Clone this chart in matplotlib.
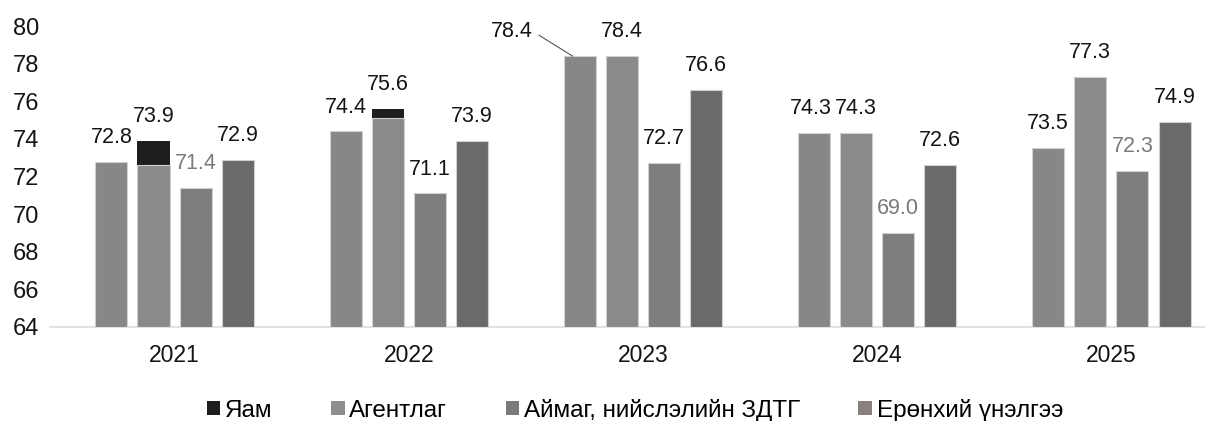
import numpy as np
import matplotlib.pyplot as plt
from matplotlib import font_manager
from matplotlib.patches import Patch

years = ['2021', '2022', '2023', '2024', '2025']
series_names = ['Яам', 'Агентлаг', 'Аймаг, нийслэлийн ЗДТГ', 'Ерөнхий үнэлгээ']

yam = [72.8, 74.4, 78.4, 74.3, 73.5]
agentlag = [73.9, 75.6, 78.4, 74.3, 77.3]
aimag = [71.4, 71.1, 72.7, 69.0, 72.3]
erunkhii = [72.9, 73.9, 76.6, 72.6, 74.9]
# where the dark top of the second bar starts (only 2021 and 2022 have it)
cap_base = [72.6, 75.1, np.nan, np.nan, np.nan]

yticks = [64, 66, 68, 70, 72, 74, 76, 78, 80]

installed = {f.name for f in font_manager.fontManager.ttflist}
family = 'Liberation Sans Narrow' if 'Liberation Sans Narrow' in installed else 'Liberation Sans'
plt.rcParams['font.family'] = [family, 'DejaVu Sans']

bar_colors = ['#878787', '#8a8a8a', '#7e7e7e', '#6a6a6a']
legend_colors = ['#1e1e1e', '#8e8e8e', '#7a7a7a', '#8a8080']
label_colors = [
    ['#141414'] * 5,
    ['#141414'] * 5,
    ['#7a7a7a', '#141414', '#141414', '#7a7a7a', '#7a7a7a'],
    ['#141414'] * 5,
]

fig = plt.figure(figsize=(12.05, 4.21), dpi=100)
ax = fig.add_axes([0.0415, 0.2233, 0.9585, 0.7147])

x = np.arange(len(years))
step = 0.18
width = 0.137
all_series = [yam, agentlag, aimag, erunkhii]

for i, vals in enumerate(all_series):
    pos = x + (i - 1.5) * step
    if i == 1:
        # dark cap first, then the gray part over it
        ax.bar(pos, np.array(vals) - 64, width, bottom=64, color='#1e1e1e',
               edgecolor='none', zorder=2)
        base = np.where(np.isnan(cap_base), vals, cap_base)
        ax.bar(pos, base - 64, width, bottom=64, color=bar_colors[i],
               edgecolor='#d0d0d0', linewidth=0.8, zorder=3)
    else:
        ax.bar(pos, np.array(vals) - 64, width, bottom=64, color=bar_colors[i],
               edgecolor='#d0d0d0', linewidth=0.8, zorder=3)

    for j, v in enumerate(vals):
        if i == 0 and j == 2:
            # 2023 first bar: label pulled left with a leader line
            ax.annotate(f'{v:.1f}', xy=(pos[j] - 0.03, v), xytext=(-44, 18),
                        textcoords='offset points', ha='center', va='center',
                        fontsize=15.5, color=label_colors[i][j],
                        arrowprops=dict(arrowstyle='-', color='#555555', lw=0.8,
                                        shrinkA=3, shrinkB=0,
                                        relpos=(1.0, 0.5)))
            continue
        # the two equal 2024 labels sit edge to edge
        dx = -2.5 if (i == 0 and j == 3) else 0
        ax.annotate(f'{v:.1f}', xy=(pos[j], v), xytext=(dx, 10),
                    textcoords='offset points', ha='center', va='bottom',
                    fontsize=15.5, color=label_colors[i][j], zorder=5)

ax.set_ylim(64, 80)
ax.set_xlim(-0.532, 4.40)
ax.set_yticks(yticks)
ax.set_yticklabels([str(t) for t in yticks], fontsize=17, color='#141414')
ax.set_xticks(x)
ax.set_xticklabels(years, fontsize=16.5, color='#141414')
ax.tick_params(axis='both', length=0)
ax.tick_params(axis='x', pad=12)
ax.tick_params(axis='y', pad=8)

for side in ['top', 'right', 'left']:
    ax.spines[side].set_visible(False)
ax.spines['bottom'].set_color('#e2e2e2')
ax.spines['bottom'].set_linewidth(1.5)

handles = [Patch(facecolor=c, edgecolor='none') for c in legend_colors]
fig.legend(handles, series_names, loc='center', bbox_to_anchor=(0.527, 0.026),
           ncol=4, frameon=False, fontsize=17.5, handlelength=0.55,
           handleheight=0.55, handletextpad=0.2, columnspacing=2.4)

fig.savefig('out.png', dpi=100)
